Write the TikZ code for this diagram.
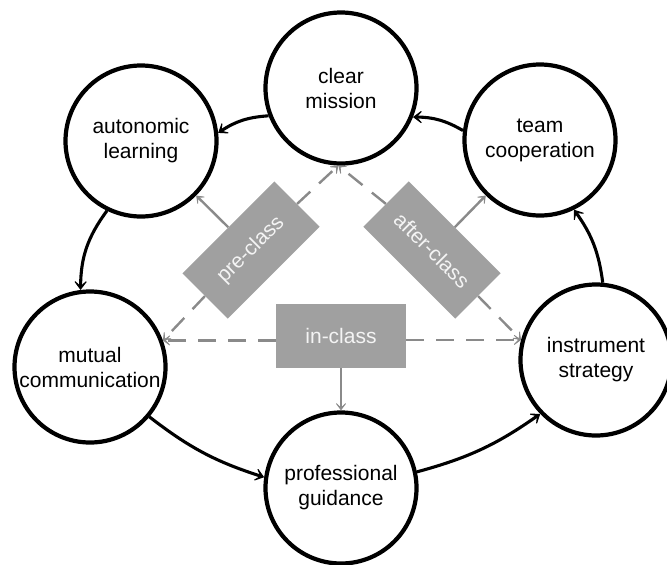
\documentclass[tikz,border=0pt]{standalone}
\usepackage{fontspec}
\setmainfont{Liberation Sans}
\usetikzlibrary{arrows.meta,calc}
\definecolor{boxgray}{HTML}{A0A0A0}
\definecolor{linegray}{HTML}{8A8A8A}
\definecolor{boxtext}{HTML}{F4F4F4}
\begin{document}
\begin{tikzpicture}[x=1pt,y=-1pt,
  stage/.style={circle,draw=black,line width=4.2pt,minimum size=151pt,inner sep=0pt,
    align=center,font=\fontsize{21}{25}\selectfont},
  phase/.style={fill=boxgray,text=boxtext,minimum width=130pt,minimum height=64pt,
    inner sep=0pt,font=\fontsize{21}{25}\selectfont},
  cycle/.style={line width=3.1pt,-{Stealth[length=12pt,width=18pt,inset=8pt]}},
  feed/.style={draw=linegray,line width=2.4pt,-{Stealth[length=10pt,width=15pt,inset=7pt]}},
  link/.style={feed,dash pattern=on 18pt off 12pt}
]
\useasboundingbox (0,0) rectangle (667,565);

% the six stages of the cycle
\node[stage] (cm) at (341,88)  {clear\\mission};
\node[stage] (al) at (141,141) {autonomic\\learning};
\node[stage] (mc) at (90,367)  {mutual\\communication};
\node[stage] (pg) at (341,488) {professional\\guidance};
\node[stage] (is) at (596,360) {instrument\\strategy};
\node[stage] (tc) at (540,140) {team\\cooperation};

% cycle connectors
\draw[cycle] (cm.201) to[bend right=15] (al.6);
\draw[cycle] (al.244) to[bend right=18] (mc.97);
\draw[cycle] (mc.320) to[bend right=10] (pg.172);
\draw[cycle] (pg.12)  to[bend right=10] (is.224);
\draw[cycle] (is.85)  to[bend right=14] (tc.296);
\draw[cycle] (tc.173) to[bend right=15] (cm.338);

% the three class phases
\node[phase,rotate=45]  (pre)  at (251,250) {pre-class};
\node[phase,rotate=-45] (post) at (432,250) {after-class};
\node[phase]            (in)   at (341,336) {in-class};

\draw[feed] (pre.north) -- (al);
\draw[feed] (post.north) -- (tc);
\draw[feed] (in.south) -- (pg);

% dashed triangle between the phases
\draw[link] (pre.east)  -- (cm.268);
\draw[link] (pre.west)  -- (mc.20);
\draw[link] (post.west) -- (cm.268);
\draw[link] (post.east) -- (is.165);
\draw[link] (in.west |- mc.20) -- (mc.20);
\draw[link] (in.east |- is.165) -- (is.165);
\end{tikzpicture}
\end{document}
